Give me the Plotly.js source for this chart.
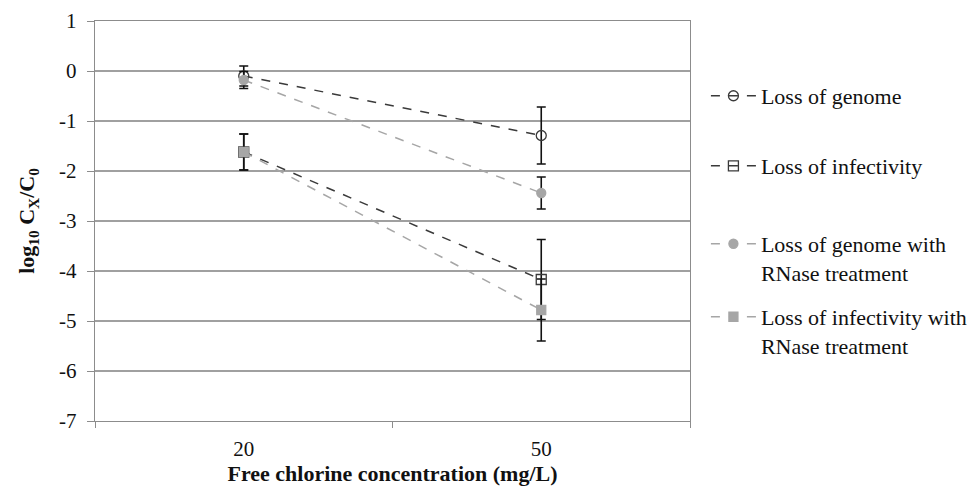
<!DOCTYPE html>
<html><head><meta charset="utf-8">
<script src="https://cdn.plot.ly/plotly-3.0.1.min.js"></script>
<style>html,body{margin:0;padding:0;background:#fff;}#chart{width:971px;height:490px;}</style>
</head><body><div id="chart"></div>
<script>
const categories = ["20", "50"];
const seriesNames = ["Loss of genome", "Loss of infectivity", "Loss of genome with<br>RNase treatment", "Loss of infectivity with<br>RNase treatment"];
const genome = [-0.10, -1.29];
const genomeErr = [0.20, 0.57];
const infectivity = [-1.62, -4.17];
const infectivityErr = [0.36, 0.80];
const genomeRNase = [-0.18, -2.44];
const genomeRNaseErr = [0.17, 0.32];
const infectivityRNase = [-1.62, -4.78];
const infectivityRNaseErr = [0.36, 0.62];
const yTicks = [1, 0, -1, -2, -3, -4, -5, -6, -7];

const serif = 'Liberation Serif, Times New Roman, serif';
const dark = '#3a3a3a', light = '#a6a6a6';
function tr(name, y, err, lineColor, symbol, mColor, mLine, size, leg) {
  return {
    type: 'scatter', mode: 'lines+markers', x: categories, y: y, name: name,
    legend: leg,
    line: {color: lineColor, width: 1.5, dash: 'dash'},
    marker: {symbol: symbol, size: size, color: mColor, line: {color: mLine, width: 1.3}},
    error_y: {type: 'data', array: err, visible: true, color: '#111', thickness: 1.6, width: 4.5}
  };
}
const data = [
  tr(seriesNames[0], genome, genomeErr, dark, 'circle-open', dark, dark, 10, 'legend'),
  tr(seriesNames[1], infectivity, infectivityErr, dark, 'square-open', dark, dark, 10, 'legend2'),
  tr(seriesNames[2], genomeRNase, genomeRNaseErr, light, 'circle', light, light, 9, 'legend3'),
  tr(seriesNames[3], infectivityRNase, infectivityRNaseErr, light, 'square', light, light, 9, 'legend4')
];
function leg(y) {
  return {xref: 'container', yref: 'container', x: 0.727, xanchor: 'left', y: y, yanchor: 'top',
    valign: 'top', bgcolor: 'rgba(0,0,0,0)',
    font: {family: serif, size: 22, color: '#111'}, itemwidth: 45};
}
const layout = {
  width: 971, height: 490,
  margin: {l: 95, r: 281, t: 21, b: 69},
  paper_bgcolor: '#fff', plot_bgcolor: '#fff',
  font: {family: serif, color: '#111', size: 21},
  showlegend: true,
  legend: leg(0.847), legend2: leg(0.704), legend3: leg(0.545), legend4: leg(0.396),
  xaxis: {type: 'category', range: [-0.5, 1.5], tickson: 'boundaries', ticks: 'outside', ticklen: 6,
    ticklabelstandoff: 8,
    tickcolor: '#8c8c8c', showgrid: false, showline: true, linecolor: '#8c8c8c', linewidth: 1.3,
    mirror: true, zeroline: false, tickfont: {family: serif, size: 21},
    title: {text: '<b>Free chlorine concentration (mg/L)</b>', font: {family: serif, size: 22}, standoff: 1}},
  yaxis: {range: [-7, 1], tickvals: yTicks, ticktext: yTicks.map(String), ticks: 'outside', ticklen: 7,
    ticklabelstandoff: 6,
    tickcolor: '#8c8c8c', showgrid: true, gridcolor: '#a0a0a0', gridwidth: 1.3, showline: true,
    linecolor: '#8c8c8c', linewidth: 1.3, mirror: true, zeroline: false, tickfont: {family: serif, size: 21},
    title: {text: '<b>log<sub>10</sub> C<sub>X</sub>/C<sub>0</sub></b>', font: {family: serif, size: 22}, standoff: 18}}
};
Plotly.newPlot('chart', data, layout, {displayModeBar: false, staticPlot: true});
</script></body></html>
